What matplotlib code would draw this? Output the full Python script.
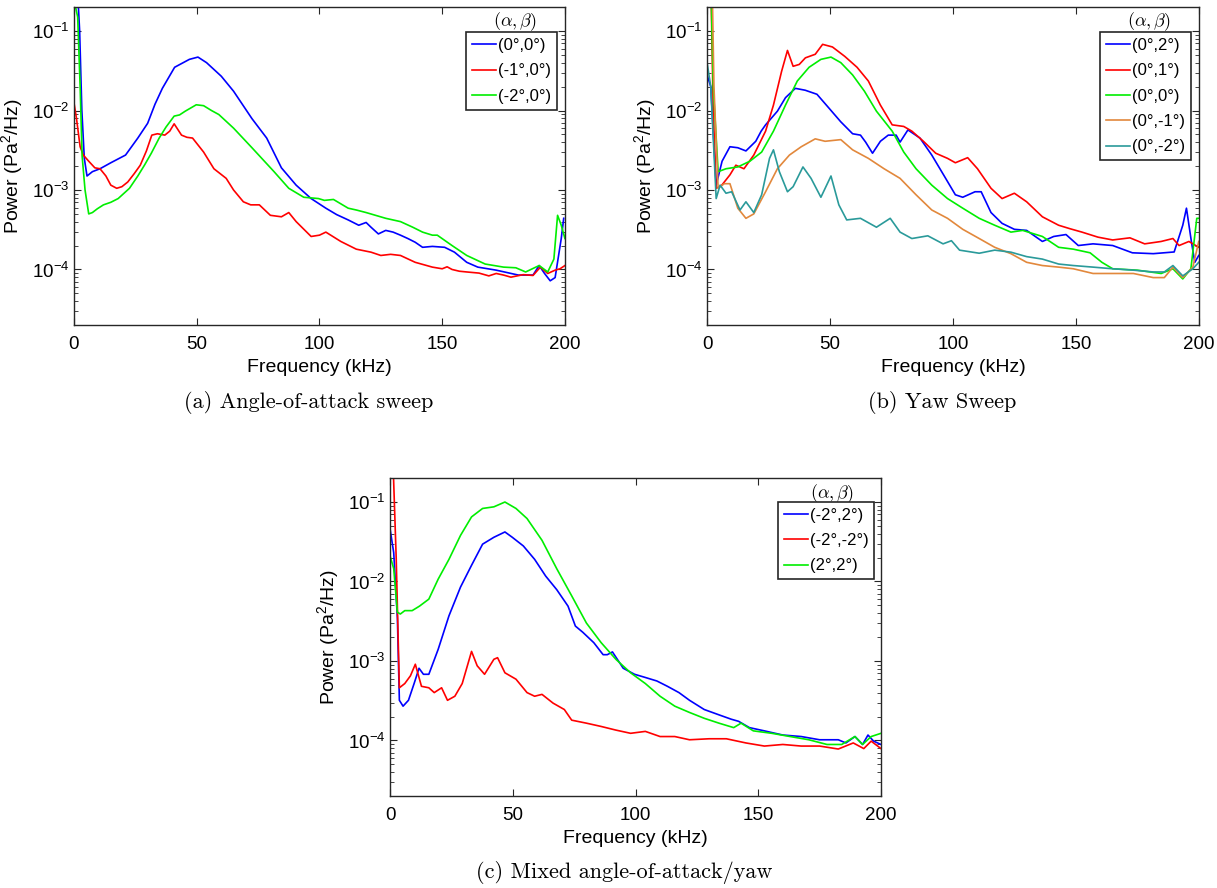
import matplotlib
matplotlib.use('Agg')
import matplotlib.pyplot as plt
from matplotlib.ticker import LogLocator, NullFormatter

plt.rcParams['font.family'] = ['Liberation Sans', 'DejaVu Sans']
plt.rcParams['mathtext.fontset'] = 'custom'
plt.rcParams['mathtext.rm'] = 'Liberation Sans'
plt.rcParams['mathtext.it'] = 'Liberation Sans:italic'
plt.rcParams['mathtext.bf'] = 'Liberation Sans:bold'

# ---- data (frequency kHz, power Pa^2/Hz) ----
# (a) angle-of-attack sweep
a_00 = [(1.5, 3e-1), (2.3, 1e-1), (3.2, 1e-2), (4.2, 2.5e-3), (5.3, 1.5e-3), (7.5, 1.7e-3),
        (10.6, 1.85e-3), (15, 2.2e-3), (21, 2.75e-3), (26, 4.5e-3), (30, 6.9e-3), (33, 1.2e-2),
        (36, 1.9e-2), (41, 3.5e-2), (47, 4.4e-2), (50.5, 4.7e-2), (54, 4.0e-2), (60, 2.7e-2),
        (65, 1.75e-2), (72.5, 7.9e-3), (78.5, 4.5e-3), (84.5, 1.9e-3), (90.5, 1.15e-3),
        (96.6, 7.8e-4), (102.6, 5.9e-4), (107, 4.9e-4), (111.7, 4.2e-4), (116, 3.6e-4),
        (119, 3.9e-4), (121, 3.4e-4), (124, 2.8e-4), (127, 3.1e-4), (130, 2.95e-4), (133, 2.7e-4),
        (136, 2.45e-4), (139, 2.2e-4), (142, 1.9e-4), (146, 1.95e-4), (151, 1.9e-4),
        (155, 1.65e-4), (160, 1.23e-4), (164.5, 1.07e-4), (172, 9.8e-5), (181, 8.5e-5),
        (187, 8.5e-5), (189.5, 1.12e-4), (191.7, 8.9e-5), (194, 7.2e-5), (196, 7.9e-5),
        (198.5, 2.45e-4), (199.5, 4.4e-4)]
a_m10 = [(0, 1.25e-2), (1, 8e-3), (2.5, 3.5e-3), (3.8, 2.75e-3), (6, 2.3e-3), (8.5, 1.9e-3),
         (10.6, 1.85e-3), (13, 1.5e-3), (15, 1.15e-3), (17.4, 1.05e-3), (19.5, 1.1e-3),
         (21.9, 1.26e-3), (24.5, 1.6e-3), (27, 2.05e-3), (29.5, 3.1e-3), (31.7, 4.9e-3),
         (34, 5.1e-3), (37, 4.9e-3), (39, 5.5e-3), (40.8, 6.8e-3), (43.8, 4.9e-3), (46, 4.6e-3),
         (48.3, 4.5e-3), (52.8, 3.0e-3), (57, 1.85e-3), (62, 1.4e-3), (65, 1.0e-3), (69, 7.1e-4),
         (72, 6.5e-4), (75.5, 6.5e-4), (80, 4.8e-4), (84.5, 4.6e-4), (87.5, 5.2e-4),
         (90.5, 4.0e-4), (96.6, 2.6e-4), (100, 2.7e-4), (102.6, 2.95e-4), (108.7, 2.25e-4),
         (115, 1.8e-4), (121, 1.65e-4), (125, 1.5e-4), (129, 1.55e-4), (133, 1.5e-4),
         (139, 1.23e-4), (146, 1.07e-4), (150, 1.02e-4), (152, 1.08e-4), (154, 1.0e-4),
         (157, 9.5e-5), (160, 9.3e-5), (165, 9.0e-5), (169, 8.3e-5), (172, 8.9e-5), (175, 8.5e-5),
         (178, 8.0e-5), (183, 8.6e-5), (187, 8.4e-5), (190, 1.07e-4), (193, 8.9e-5), (196, 9.8e-5),
         (198, 1.02e-4), (200, 1.12e-4)]
a_m20 = [(0, 2.5e-1), (1.5, 1.5e-1), (2.5, 2e-2), (3.3, 2.7e-3), (4.5, 1e-3), (6, 5.0e-4),
         (7.5, 5.2e-4), (9.5, 5.8e-4), (12, 6.5e-4), (15, 7.0e-4), (18, 7.8e-4), (22.6, 1.05e-3),
         (26, 1.5e-3), (28.7, 2.05e-3), (31.5, 2.9e-3), (34.7, 4.5e-3), (37.5, 6.2e-3),
         (40.8, 8.5e-3), (43, 8.8e-3), (45.3, 9.8e-3), (49.8, 1.18e-2), (52.8, 1.15e-2),
         (56, 1.0e-2), (59, 8.9e-3), (65, 6.0e-3), (72.5, 3.4e-3), (81.5, 1.7e-3), (87.5, 1.05e-3),
         (93.6, 8.1e-4), (99.6, 7.8e-4), (102, 7.4e-4), (105.7, 7.6e-4), (111.7, 5.9e-4),
         (115, 5.6e-4), (119, 5.2e-4), (127, 4.4e-4), (133, 4.0e-4), (138, 3.4e-4),
         (142, 2.95e-4), (146, 2.7e-4), (148, 2.7e-4), (154, 2.0e-4), (160, 1.5e-4),
         (167.5, 1.17e-4), (175, 1.07e-4), (180, 1.05e-4), (184, 9.3e-5), (189.5, 1.12e-4),
         (193, 9.3e-5), (195.5, 1.35e-4), (197, 4.8e-4), (198.5, 3.6e-4), (200, 2.45e-4)]

# (b) yaw sweep
b_02 = [(0, 2.8e-2), (1.5, 2e-2), (3.7, 1.15e-3), (6.1, 2.3e-3), (9.3, 3.5e-3), (12.5, 3.4e-3),
        (15.8, 3.1e-3), (19.8, 4.1e-3), (22, 5.5e-3), (23.8, 6.6e-3), (28.6, 9.8e-3),
        (31.9, 1.45e-2), (35.9, 1.9e-2), (39.9, 1.8e-2), (44.7, 1.6e-2), (49.6, 1.07e-2),
        (54.4, 7.2e-3), (59.2, 5.1e-3), (62.4, 4.9e-3), (64.5, 4.0e-3), (67.3, 2.9e-3),
        (70.5, 4.1e-3), (73.7, 4.9e-3), (76.9, 4.9e-3), (78.5, 4.0e-3), (81.7, 5.7e-3),
        (86.6, 4.5e-3), (91.4, 2.75e-3), (96.2, 1.55e-3), (101, 8.7e-4), (104, 8.1e-4),
        (109, 9.5e-4), (111.5, 9.5e-4), (115.5, 5.2e-4), (120, 3.8e-4), (125, 3.2e-4),
        (130, 3.1e-4), (136.4, 2.25e-4), (141, 2.6e-4), (146, 2.75e-4), (151, 2.0e-4),
        (157, 2.1e-4), (165, 2.0e-4), (173, 1.62e-4), (181.5, 1.58e-4), (190, 1.66e-4),
        (193.5, 3.6e-4), (195, 5.9e-4), (197, 2.25e-4), (198.4, 1.23e-4), (200, 1.5e-4)]
b_01 = [(1.5, 5e-1), (2.5, 1e-2), (3.7, 1.05e-3), (6, 1.15e-3), (9.3, 1.55e-3), (11.7, 2.05e-3),
        (15, 1.85e-3), (19, 2.75e-3), (23.8, 5.5e-3), (27, 1.17e-2), (30.3, 3.1e-2),
        (32.7, 5.7e-2), (35, 3.6e-2), (37.5, 3.8e-2), (40, 4.6e-2), (44, 5.1e-2), (47, 6.8e-2),
        (51, 6.3e-2), (56, 4.8e-2), (61, 3.5e-2), (65.6, 2.35e-2), (70.5, 1.17e-2),
        (75.3, 6.6e-3), (80, 6.3e-3), (83.3, 5.5e-3), (88, 4.1e-3), (93, 2.9e-3), (97.8, 2.5e-3),
        (101, 2.2e-3), (106, 2.55e-3), (110, 1.85e-3), (115.5, 1.05e-3), (120, 7.8e-4),
        (125, 9.1e-4), (130, 7.1e-4), (136.4, 4.6e-4), (143, 3.6e-4), (147.7, 3.25e-4),
        (152.5, 2.95e-4), (159, 2.55e-4), (165, 2.35e-4), (172, 2.5e-4), (178, 2.1e-4),
        (184.7, 2.25e-4), (189.5, 2.45e-4), (192, 2.0e-4), (196, 2.25e-4), (200, 1.9e-4)]
b_00 = [(1.5, 5e-1), (2.5, 2e-2), (4.5, 1.7e-3), (7.7, 1.85e-3), (12.5, 1.95e-3), (17.4, 2.3e-3),
        (22.2, 3.0e-3), (27, 5.5e-3), (31.9, 1.17e-2), (36.7, 2.35e-2), (41.5, 3.5e-2),
        (46.3, 4.4e-2), (50.4, 4.7e-2), (54.4, 4.0e-2), (59.2, 2.8e-2), (64, 1.75e-2),
        (68.9, 9.8e-3), (75.3, 5.5e-3), (80, 3.0e-3), (85, 1.85e-3), (91.4, 1.15e-3),
        (97.8, 7.8e-4), (104, 5.9e-4), (110.7, 4.4e-4), (117, 3.6e-4), (123.6, 2.95e-4),
        (128.4, 3.1e-4), (136.4, 2.6e-4), (143, 1.9e-4), (149, 1.8e-4), (155.8, 1.62e-4),
        (160.6, 1.23e-4), (165, 1.02e-4), (175, 9.8e-5), (184.7, 8.9e-5), (189.5, 1.02e-4),
        (193.5, 7.6e-5), (196.8, 1.02e-4), (199.2, 4.4e-4), (200, 4.4e-4)]
b_0m1 = [(2, 5e-1), (2.8, 2e-2), (4.5, 1.05e-3), (7, 1.2e-3), (9.3, 1.2e-3), (12.5, 5.9e-4),
         (15.8, 4.4e-4), (19, 5.0e-4), (23.8, 9.5e-4), (28.6, 1.85e-3), (33.5, 2.75e-3),
         (38.3, 3.5e-3), (44, 4.4e-3), (48, 4.1e-3), (54.4, 4.3e-3), (59.2, 3.2e-3),
         (65.6, 2.5e-3), (72, 1.85e-3), (78.5, 1.4e-3), (85, 8.7e-4), (91.4, 5.6e-4),
         (97.8, 4.4e-4), (104, 3.2e-4), (110.7, 2.45e-4), (117, 1.9e-4), (123.6, 1.58e-4),
         (130, 1.23e-4), (136.4, 1.12e-4), (143, 1.07e-4), (149, 1.02e-4), (157, 8.9e-5),
         (165, 8.9e-5), (173.4, 8.9e-5), (181.5, 7.9e-5), (186, 7.9e-5), (189.5, 1.07e-4),
         (193.5, 7.9e-5), (197.6, 1.07e-4), (200, 2.25e-4)]
b_0m2 = [(0, 4e-2), (1.5, 2e-2), (3.7, 7.8e-4), (5.3, 1.15e-3), (7.7, 9.1e-4), (10, 9.5e-4),
         (13.4, 5.6e-4), (15.8, 7.1e-4), (19, 5.2e-4), (22.2, 8.7e-4), (25.4, 2.5e-3),
         (27, 3.2e-3), (29.4, 1.7e-3), (32.7, 9.5e-4), (35, 1.1e-3), (39, 1.95e-3),
         (42.3, 1.4e-3), (46.3, 8.1e-4), (50.4, 1.5e-3), (53.6, 6.5e-4), (56.8, 4.2e-4),
         (62.4, 4.4e-4), (68.9, 3.4e-4), (74.5, 4.4e-4), (78.5, 2.95e-4), (83.3, 2.45e-4),
         (89.8, 2.65e-4), (96, 2.1e-4), (99.4, 2.3e-4), (102.7, 1.75e-4), (110.7, 1.6e-4),
         (117, 1.75e-4), (123.6, 1.65e-4), (130, 1.45e-4), (136.4, 1.35e-4), (143, 1.17e-4),
         (149, 1.12e-4), (157, 1.07e-4), (165, 1.02e-4), (173.4, 9.8e-5), (181.5, 9.3e-5),
         (186, 9.3e-5), (189.5, 1.12e-4), (193.5, 8.3e-5), (197.6, 1.02e-4), (200, 1.23e-4)]

# (c) mixed angle-of-attack / yaw
c_m22 = [(0, 4.6e-2), (1.5, 2.3e-2), (3, 3.4e-3), (3.8, 3.2e-4), (5.3, 2.7e-4), (7.5, 3.2e-4),
         (9.8, 5.2e-4), (11.8, 8.1e-4), (13.6, 6.8e-4), (15.8, 6.8e-4), (19.6, 1.4e-3),
         (24, 3.7e-3), (28.7, 8.5e-3), (33.2, 1.6e-2), (37.7, 2.95e-2), (42.3, 3.6e-2),
         (46.8, 4.2e-2), (49.8, 3.6e-2), (54.3, 2.8e-2), (58.9, 1.9e-2), (63.4, 1.17e-2),
         (67.9, 7.9e-3), (72.5, 4.9e-3), (75.5, 2.75e-3), (78.5, 2.3e-3), (83, 1.7e-3),
         (86.8, 1.2e-3), (88.5, 1.2e-3), (90.6, 1.3e-3), (95, 8.1e-4), (99.6, 6.8e-4),
         (104, 6.2e-4), (108.7, 5.6e-4), (113, 4.8e-4), (117.7, 4.0e-4), (122, 3.2e-4),
         (128, 2.45e-4), (134, 2.1e-4), (139, 1.85e-4), (142, 1.74e-4), (146.4, 1.45e-4),
         (152.5, 1.32e-4), (160, 1.17e-4), (167.5, 1.12e-4), (175, 1.02e-4), (182.6, 1.02e-4),
         (185.7, 9.3e-5), (189.4, 1.12e-4), (192.5, 8.9e-5), (194.7, 1.17e-4), (197, 9.8e-5),
         (200, 8.9e-5)]
c_m2m2 = [(1, 5e-1), (2.5, 2e-2), (3.8, 4.6e-4), (6, 5.2e-4), (8.3, 6.5e-4), (10.3, 9.1e-4),
          (12.8, 4.8e-4), (15.8, 4.6e-4), (18, 4.0e-4), (21, 4.6e-4), (23.4, 3.2e-4),
          (26.4, 3.6e-4), (29.4, 5.2e-4), (33.2, 1.32e-3), (35.5, 8.7e-4), (38.5, 6.8e-4),
          (42.3, 1.05e-3), (43.8, 1.1e-3), (46.8, 7.1e-4), (51.3, 5.9e-4), (55.8, 4.0e-4),
          (58.9, 3.6e-4), (61.9, 3.8e-4), (66.4, 2.95e-4), (71, 2.45e-4), (74, 1.8e-4),
          (80, 1.65e-4), (86, 1.5e-4), (92, 1.35e-4), (98, 1.23e-4), (104, 1.3e-4), (110, 1.12e-4),
          (116, 1.12e-4), (122, 1.02e-4), (130, 1.05e-4), (137, 1.05e-4), (145, 9.3e-5),
          (152.5, 8.5e-5), (160, 8.9e-5), (167.5, 8.5e-5), (175, 8.5e-5), (182.6, 7.8e-5),
          (188.7, 9.3e-5), (193, 7.9e-5), (196, 9.8e-5), (200, 7.9e-5)]
c_22 = [(0, 2.1e-2), (1.5, 1.45e-2), (3, 4.1e-3), (4.2, 3.9e-3), (6, 4.3e-3), (9, 4.3e-3),
        (12, 4.9e-3), (15.8, 6.0e-3), (19.6, 1.07e-2), (24, 1.9e-2), (28.7, 3.8e-2),
        (33.2, 6.5e-2), (37.7, 8.3e-2), (42.3, 8.7e-2), (46.8, 1.0e-1), (51.3, 8.3e-2),
        (55.8, 6.2e-2), (61.9, 3.3e-2), (67.9, 1.45e-2), (74, 6.6e-3), (80, 3.0e-3),
        (86, 1.7e-3), (92, 1.05e-3), (98, 7.1e-4), (104, 5.2e-4), (110, 3.6e-4), (116, 2.7e-4),
        (122, 2.25e-4), (128, 1.9e-4), (134, 1.65e-4), (140, 1.45e-4), (143, 1.65e-4),
        (148, 1.32e-4), (155.5, 1.23e-4), (163, 1.12e-4), (170.6, 1.02e-4), (178, 8.9e-5),
        (184, 8.9e-5), (189.4, 1.12e-4), (192.5, 8.9e-5), (196, 1.12e-4), (200, 1.23e-4)]

labels_a = ['(0°,0°)', '(-1°,0°)', '(-2°,0°)']
labels_b = ['(0°,2°)', '(0°,1°)', '(0°,0°)', '(0°,-1°)', '(0°,-2°)']
labels_c = ['(-2°,2°)', '(-2°,-2°)', '(2°,2°)']

BLUE, RED, GREEN = '#0000ff', '#ff0000', '#00ee00'
ORANGE, TEAL = '#e2883c', '#2a9a9a'

fig = plt.figure(figsize=(12.17, 8.88), dpi=100)


def panel(rect, series, labels, colors, caption, cap_xy, leg_anchor, title_xy):
    ax = fig.add_axes(rect)
    for s, lab, c in zip(series, labels, colors):
        f = [p[0] for p in s]
        v = [p[1] for p in s]
        ax.plot(f, v, color=c, lw=1.2, label=lab)
    ax.set_yscale('log')
    ax.set_xlim(0, 200)
    ax.set_ylim(2e-5, 2e-1)
    ax.set_xticks([0, 50, 100, 150, 200])
    ax.yaxis.set_major_locator(LogLocator(base=10, numticks=10))
    ax.yaxis.set_minor_locator(LogLocator(base=10, subs=range(2, 10), numticks=20))
    ax.yaxis.set_minor_formatter(NullFormatter())
    ax.tick_params(which='both', direction='in', top=True, right=True,
                   labelsize=13.5, colors='#262626', labelcolor='black')
    ax.tick_params(which='major', length=5)
    ax.tick_params(which='minor', length=3)
    ax.tick_params(axis='x', pad=8)
    for sp in ax.spines.values():
        sp.set_color('#262626')
        sp.set_linewidth(1.0)
    ax.set_xlabel('Frequency (kHz)', fontsize=14, labelpad=4)
    ax.set_ylabel('Power (Pa$^2$/Hz)', fontsize=14, labelpad=5)
    leg = ax.legend(loc='upper right', bbox_to_anchor=leg_anchor, fontsize=12,
                    frameon=True, fancybox=False, edgecolor='#262626', framealpha=1,
                    handlelength=1.45, handletextpad=0.1, borderpad=0.35,
                    labelspacing=0.62, borderaxespad=0)
    leg.get_frame().set_linewidth(1.2)
    ax.text(title_xy[0], title_xy[1], r'$(\alpha,\beta)$', transform=ax.transAxes,
            ha='center', va='center', fontsize=13, math_fontfamily='cm')
    fig.text(cap_xy[0], cap_xy[1], caption, ha='center', va='center',
             fontsize=16, family='cmr10')
    return ax


panel([0.0608, 0.634, 0.4034, 0.358], [a_00, a_m10, a_m20], labels_a,
      [BLUE, RED, GREEN], '(a) Angle-of-attack sweep', (309 / 1217, 1 - 402 / 888),
      (0.984, 0.921), (0.898, 0.955))
panel([0.581, 0.634, 0.404, 0.358], [b_02, b_01, b_00, b_0m1, b_0m2], labels_b,
      [BLUE, RED, GREEN, ORANGE, TEAL], '(b) Yaw Sweep', (942 / 1217, 1 - 402 / 888),
      (0.984, 0.921), (0.898, 0.955))
panel([0.3205, 0.1036, 0.4034, 0.358], [c_m22, c_m2m2, c_22], labels_c,
      [BLUE, RED, GREEN], '(c) Mixed angle-of-attack/yaw', (624 / 1217, 1 - 872 / 888),
      (0.986, 0.925), (0.90, 0.952))

fig.savefig('out.png', dpi=100, facecolor='white')
